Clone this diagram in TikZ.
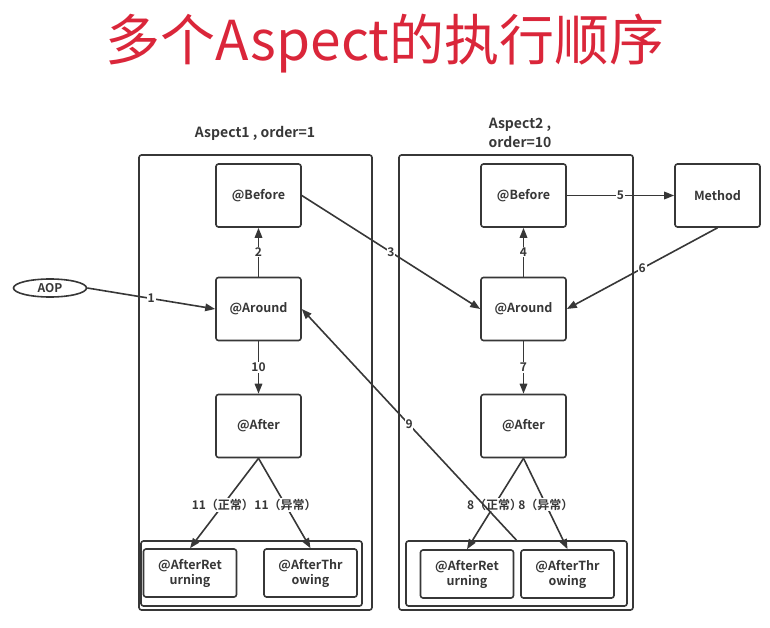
\documentclass[tikz,border=0pt]{standalone}
\usepackage{fontspec}
\setmainfont{Noto Sans CJK SC}[BoldFont={Noto Sans CJK SC Bold}]
\usepackage{tikz}
\usetikzlibrary{arrows.meta,positioning,calc,shapes.geometric}
\definecolor{mTitle}{RGB}{218,38,58}
\definecolor{mLine}{RGB}{55,55,55}
\tikzset{
  blk/.style={draw=mLine, line width=1.6pt, rounded corners=2.5pt, fill=white,
    minimum width=85pt, minimum height=63pt, align=center,
    font=\bfseries\fontsize{12.5}{15}\selectfont, text=mLine},
  smallblk/.style={blk, minimum width=93pt, minimum height=48pt},
  frame/.style={draw=mLine, line width=1.6pt, rounded corners=2.5pt, inner sep=0pt},
  flow/.style={draw=mLine, line width=1.6pt, -{Triangle[length=10pt,width=7.5pt]}},
  num/.style={fill=white, inner sep=0.8pt, text=mLine,
    font=\bfseries\fontsize{12}{13}\selectfont},
  hd/.style={text=mLine, align=center, font=\bfseries\fontsize{14}{19}\selectfont}
}
\begin{document}
\begin{tikzpicture}[x=1pt, y=-1pt]
    \useasboundingbox (0,0) rectangle (770,628);

    % title
    \node[text=mTitle, font=\fontsize{55}{58}\selectfont] (title) at (385,44) {多个Aspect的执行顺序};

    % aspect frames
    \node[frame, minimum width=233pt, minimum height=455pt] (aspA) at (255.5,382.5) {};
    \node[frame, minimum width=234pt, minimum height=455pt] (aspB) at (516,382.5) {};
    \node[hd] (hdA) at (255,133) {Aspect1 , order=1};
    \node[hd] (hdB) at (520,133) {Aspect2 ,\\order=10};

    % Aspect1
    \node[blk] (lBefore) at (258.5,195.5) {@Before};
    \node[blk] (lAround) at (258.5,309) {@Around};
    \node[blk] (lAfter) at (258.5,426) {@After};
    \node[frame, minimum width=221pt, minimum height=65pt] (lInner) at (251.5,573.5) {};
    \node[smallblk] (lRet) at (190,573) {@AfterRet\\urning};
    \node[smallblk] (lThr) at (310.5,573) {@AfterThr\\owing};

    % Aspect2
    \node[blk] (rBefore) at (523.5,195.5) {@Before};
    \node[blk] (rAround) at (523.5,309) {@Around};
    \node[blk] (rAfter) at (523.5,426) {@After};
    \node[frame, minimum width=221pt, minimum height=65pt] (rInner) at (516.5,573.5) {};
    \node[smallblk] (rRet) at (467,574) {@AfterRet\\urning};
    \node[smallblk] (rThr) at (567.5,574) {@AfterThr\\owing};

    % outside
    \node[blk] (method) at (717.5,195.5) {Method};
    \node[ellipse, draw=mLine, line width=1.6pt, minimum width=73pt, minimum height=18pt,
      inner sep=0pt, font=\bfseries\fontsize{12}{13}\selectfont, text=mLine] (aop) at (50,288) {AOP};

    % order of calls
    \draw[flow] (aop.east) -- node[num] {1} (lAround.west);
    \draw[flow] (lAround) -- node[num] {2} (lBefore);
    \draw[flow] (lBefore.east) -- node[num] {3} (rAround.west);
    \draw[flow] (rAround) -- node[num] {4} (rBefore);
    \draw[flow] (rBefore) -- node[num] {5} (method);
    \draw[flow] (method.south) -- node[num] {6} (rAround.east);
    \draw[flow] (rAround) -- node[num] {7} (rAfter);
    \draw[flow] (rAfter.south) -- node[num, pos=0.51] {8（正常）} (rRet.north);
    \draw[flow] (rAfter.south) -- node[num, pos=0.51] {8（异常）} (rThr.north);
    \draw[flow] (rInner.north) -- node[num] {9} (lAround.east);
    \draw[flow] (lAround) -- node[num] {10} (lAfter);
    \draw[flow] (lAfter.south) -- node[num, pos=0.52] {11（正常）} (lRet.north);
    \draw[flow] (lAfter.south) -- node[num, pos=0.52] {11（异常）} (lThr.north);
\end{tikzpicture}
\end{document}
